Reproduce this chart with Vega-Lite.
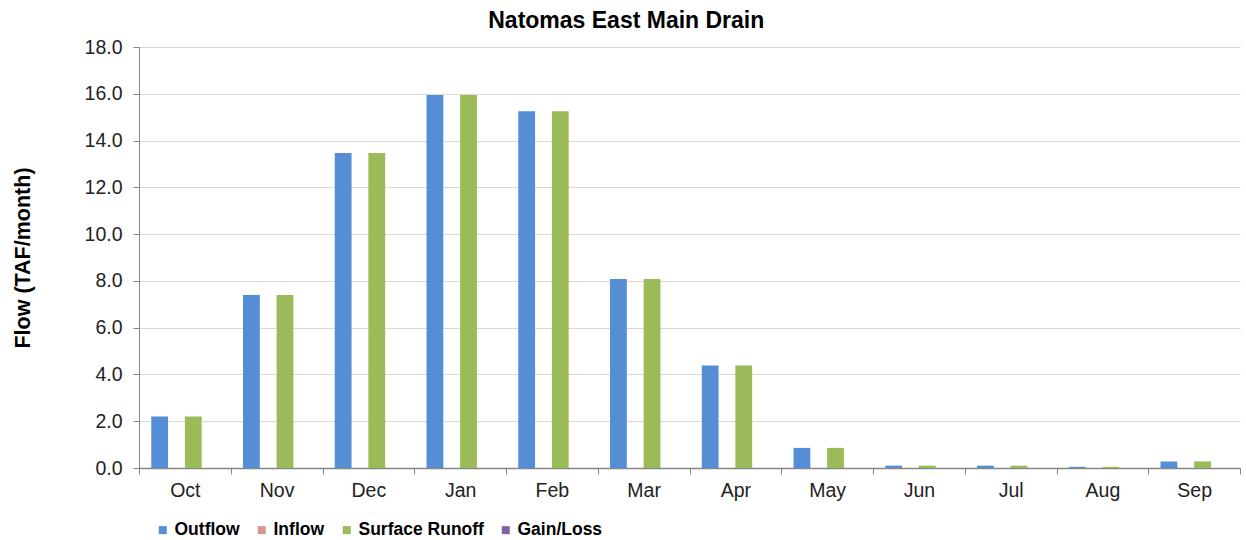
{
  "$schema": "https://vega.github.io/schema/vega-lite/v6.json",
  "autosize": "none",
  "width": 1101,
  "height": 421,
  "padding": {"left": 139, "top": 47, "right": 6, "bottom": 72},
  "background": "white",
  "config": {
    "font": "Liberation Sans",
    "view": {"stroke": null}
  },
  "title": {
    "text": "Natomas East Main Drain",
    "font": "Liberation Sans",
    "fontSize": 23,
    "fontWeight": "bold",
    "color": "#000000",
    "anchor": "middle",
    "frame": "bounds",
    "offset": 4
  },
  "data": {
    "values": [
      {"month": "Oct", "series": "Outflow", "value": 2.2},
      {"month": "Oct", "series": "Inflow", "value": 0},
      {"month": "Oct", "series": "Surface Runoff", "value": 2.2},
      {"month": "Oct", "series": "Gain/Loss", "value": 0},
      {"month": "Nov", "series": "Outflow", "value": 7.4},
      {"month": "Nov", "series": "Inflow", "value": 0},
      {"month": "Nov", "series": "Surface Runoff", "value": 7.4},
      {"month": "Nov", "series": "Gain/Loss", "value": 0},
      {"month": "Dec", "series": "Outflow", "value": 13.47},
      {"month": "Dec", "series": "Inflow", "value": 0},
      {"month": "Dec", "series": "Surface Runoff", "value": 13.47},
      {"month": "Dec", "series": "Gain/Loss", "value": 0},
      {"month": "Jan", "series": "Outflow", "value": 15.95},
      {"month": "Jan", "series": "Inflow", "value": 0},
      {"month": "Jan", "series": "Surface Runoff", "value": 15.95},
      {"month": "Jan", "series": "Gain/Loss", "value": 0},
      {"month": "Feb", "series": "Outflow", "value": 15.25},
      {"month": "Feb", "series": "Inflow", "value": 0},
      {"month": "Feb", "series": "Surface Runoff", "value": 15.25},
      {"month": "Feb", "series": "Gain/Loss", "value": 0},
      {"month": "Mar", "series": "Outflow", "value": 8.08},
      {"month": "Mar", "series": "Inflow", "value": 0},
      {"month": "Mar", "series": "Surface Runoff", "value": 8.08},
      {"month": "Mar", "series": "Gain/Loss", "value": 0},
      {"month": "Apr", "series": "Outflow", "value": 4.38},
      {"month": "Apr", "series": "Inflow", "value": 0},
      {"month": "Apr", "series": "Surface Runoff", "value": 4.38},
      {"month": "Apr", "series": "Gain/Loss", "value": 0},
      {"month": "May", "series": "Outflow", "value": 0.86},
      {"month": "May", "series": "Inflow", "value": 0},
      {"month": "May", "series": "Surface Runoff", "value": 0.86},
      {"month": "May", "series": "Gain/Loss", "value": 0},
      {"month": "Jun", "series": "Outflow", "value": 0.1},
      {"month": "Jun", "series": "Inflow", "value": 0},
      {"month": "Jun", "series": "Surface Runoff", "value": 0.1},
      {"month": "Jun", "series": "Gain/Loss", "value": 0},
      {"month": "Jul", "series": "Outflow", "value": 0.1},
      {"month": "Jul", "series": "Inflow", "value": 0},
      {"month": "Jul", "series": "Surface Runoff", "value": 0.1},
      {"month": "Jul", "series": "Gain/Loss", "value": 0},
      {"month": "Aug", "series": "Outflow", "value": 0.05},
      {"month": "Aug", "series": "Inflow", "value": 0},
      {"month": "Aug", "series": "Surface Runoff", "value": 0.05},
      {"month": "Aug", "series": "Gain/Loss", "value": 0},
      {"month": "Sep", "series": "Outflow", "value": 0.28},
      {"month": "Sep", "series": "Inflow", "value": 0},
      {"month": "Sep", "series": "Surface Runoff", "value": 0.28},
      {"month": "Sep", "series": "Gain/Loss", "value": 0}
    ]
  },
  "mark": {"type": "bar"},
  "encoding": {
    "x": {
      "field": "month",
      "type": "nominal",
      "sort": ["Oct", "Nov", "Dec", "Jan", "Feb", "Mar", "Apr", "May", "Jun", "Jul", "Aug", "Sep"],
      "scale": {"paddingInner": 0, "paddingOuter": 0},
      "axis": {
        "title": null,
        "labelAngle": 0,
        "labelFont": "Liberation Sans",
        "labelFontSize": 19.5,
        "labelColor": "#222222",
        "labelPadding": 7,
        "tickBand": "extent",
        "tickColor": "#868686",
        "tickSize": 6,
        "domainColor": "#868686",
        "domainWidth": 1.5,
        "grid": false
      }
    },
    "xOffset": {
      "field": "series",
      "type": "nominal",
      "sort": ["Outflow", "Inflow", "Surface Runoff", "Gain/Loss"],
      "scale": {"paddingInner": 0, "paddingOuter": 0.73}
    },
    "y": {
      "field": "value",
      "type": "quantitative",
      "scale": {"domain": [0, 18], "nice": false},
      "axis": {
        "title": "Flow (TAF/month)",
        "titleFont": "Liberation Sans",
        "titleFontSize": 21.5,
        "titleFontWeight": "bold",
        "titleColor": "#000000",
        "titlePadding": 50,
        "values": [0, 2, 4, 6, 8, 10, 12, 14, 16, 18],
        "format": ".1f",
        "labelFont": "Liberation Sans",
        "labelFontSize": 19.5,
        "labelColor": "#222222",
        "labelPadding": 11,
        "tickColor": "#868686",
        "tickSize": 6,
        "domainColor": "#868686",
        "gridColor": "#d9d9d9",
        "gridWidth": 1
      }
    },
    "color": {
      "field": "series",
      "type": "nominal",
      "sort": ["Outflow", "Inflow", "Surface Runoff", "Gain/Loss"],
      "scale": {
        "domain": ["Outflow", "Inflow", "Surface Runoff", "Gain/Loss"],
        "range": ["#558ED5", "#D99694", "#9BBB59", "#8064A2"]
      },
      "legend": {
        "title": null,
        "orient": "none",
        "direction": "horizontal",
        "legendX": 15,
        "legendY": 474,
        "symbolType": "square",
        "symbolSize": 64,
        "symbolStrokeWidth": 0,
        "labelFont": "Liberation Sans",
        "labelFontSize": 17.5,
        "labelFontWeight": "bold",
        "labelColor": "#000000",
        "labelOffset": 3,
        "columnPadding": 13
      }
    }
  }
}
